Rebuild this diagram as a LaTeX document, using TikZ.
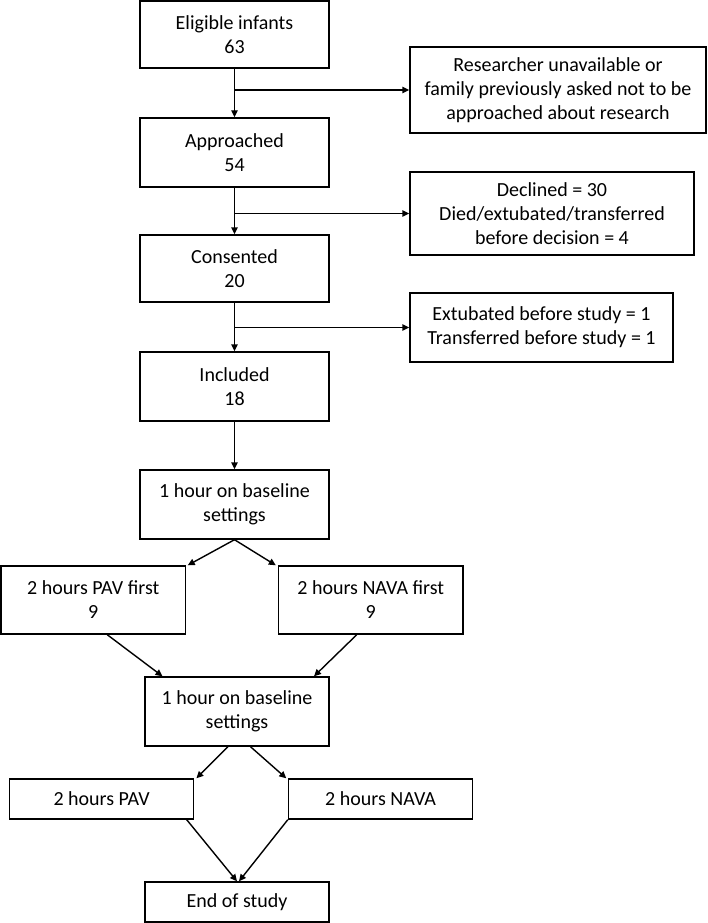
\documentclass[tikz,border=0pt]{standalone}
\usepackage{fontspec}
\setmainfont{Carlito}
\usetikzlibrary{arrows.meta,calc}
\begin{document}
\begin{tikzpicture}[x=1pt,y=-1pt,
  box/.style={draw=black,line width=1.4pt,align=center,inner sep=0pt,
    font=\fontsize{20}{24}\selectfont},
  arr/.style={draw=black,line width=1.4pt,-{Triangle[length=7pt,width=6.5pt]}},
  ln/.style={draw=black,line width=1.4pt}]
\useasboundingbox (0,0) rectangle (708,923);
\node[box,minimum width=189pt,minimum height=67pt] (elig) at (234.5,34.5) {Eligible infants\\63};
\node[box,minimum width=296pt,minimum height=86pt] (res) at (558,90) {Researcher unavailable or\\family previously asked not to be\\approached about research};
\node[box,minimum width=189pt,minimum height=69pt] (appr) at (234.5,152.5) {Approached\\54};
\node[box,minimum width=284pt,minimum height=83pt] (decl) at (552,213.5) {Declined = 30\\Died/extubated/transferred\\before decision = 4};
\node[box,minimum width=189pt,minimum height=67pt] (cons) at (234.5,268.5) {Consented\\20};
\node[box,minimum width=263pt,minimum height=69pt] (ext) at (541.5,327.5) {Extubated before study = 1\\Transferred before study = 1};
\node[box,minimum width=189pt,minimum height=69pt] (incl) at (234.5,386.5) {Included\\18};
\node[box,minimum width=189pt,minimum height=69pt] (base1) at (234.5,504.5) {1 hour on baseline\\settings};
\node[box,minimum width=184.5pt,minimum height=68pt] (pav1) at (93.25,600) {2 hours PAV first\\9};
\node[box,minimum width=184.5pt,minimum height=68pt] (nava1) at (370.75,600) {2 hours NAVA first\\9};
\node[box,minimum width=184pt,minimum height=69pt] (base2) at (237,711.5) {1 hour on baseline\\settings};
\node[box,minimum width=184.2pt,minimum height=40pt] (pav2) at (101.6,799) {2 hours PAV};
\node[box,minimum width=184.2pt,minimum height=40pt] (nava2) at (380.6,799) {2 hours NAVA};
\node[box,minimum width=184pt,minimum height=40pt] (end) at (237,902) {End of study};

\coordinate (j1) at (elig.south |- res.west);
\coordinate (j2) at (appr.south |- decl.west);
\coordinate (j3) at (cons.south |- ext.west);
\draw[arr] (elig.south) -- (appr.north);
\draw[arr] (j1) -- (res.west);
\draw[arr] (appr.south) -- (cons.north);
\draw[arr] (j2) -- (decl.west);
\draw[arr] (cons.south) -- (incl.north);
\draw[arr] (j3) -- (ext.west);
\draw[arr] (incl.south) -- (base1.north);
\draw[arr] (base1.south) -- ([xshift=1.5pt]pav1.north east);
\draw[arr] (base1.south) -- ([xshift=-2pt]nava1.north west);
\draw[arr] ([xshift=14pt]pav1.south) -- ([xshift=-74.5pt]base2.north);
\draw[arr] ([xshift=-14pt]nava1.south) -- ([xshift=77pt]base2.north);
\draw[arr] ([xshift=-9pt]base2.south) -- ([xshift=2pt]pav2.north east);
\draw[arr] ([xshift=13.5pt]base2.south) -- ([xshift=-1.5pt]nava2.north west);
\draw[arr] ([xshift=-7.7pt]pav2.south east) -- (end.north);
\draw[arr] (nava2.south west) -- ([xshift=2pt]end.north);
\end{tikzpicture}
\end{document}
